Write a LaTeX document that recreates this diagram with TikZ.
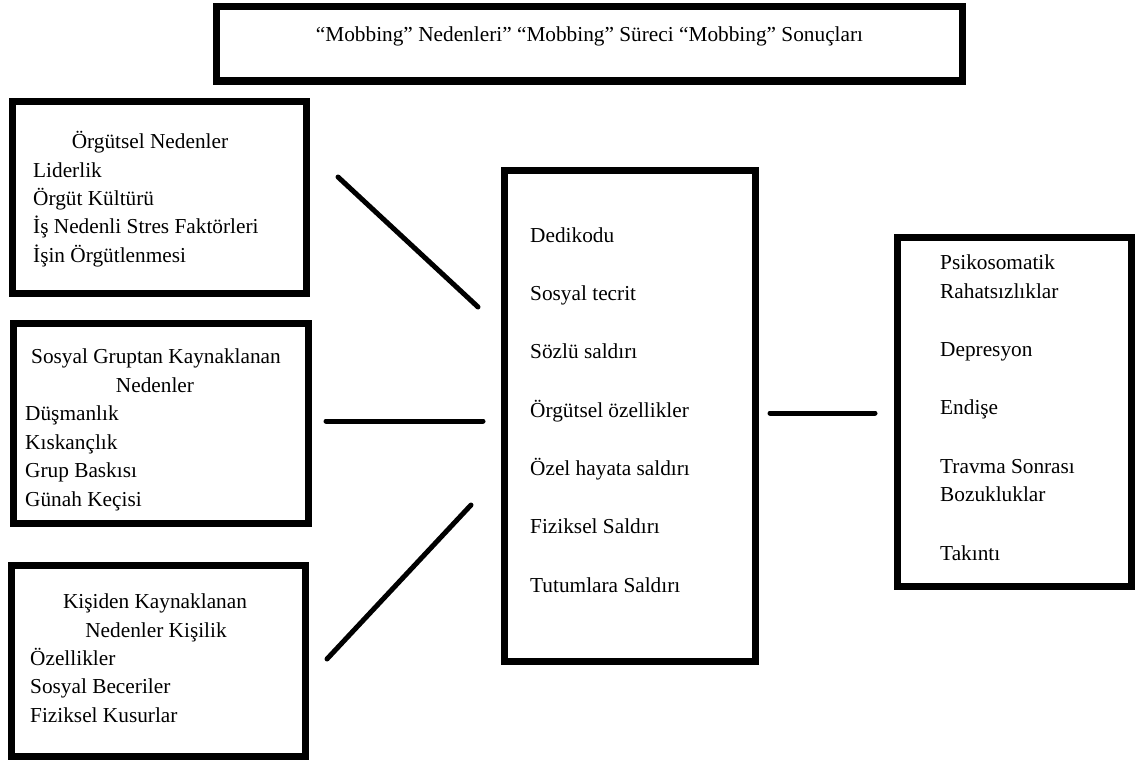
\documentclass[tikz,border=0pt]{standalone}
\usepackage{fontspec}
\setmainfont{Liberation Serif}
\usepackage{tikz}

\newcommand{\txt}{\fontsize{21.3}{25}\selectfont}

\tikzset{
  box/.style={draw,line width=7pt,inner sep=0pt},
  lbl/.style={anchor=base west,inner sep=0pt,font=\txt},
  head/.style={anchor=base,inner sep=0pt,font=\txt},
  link/.style={line width=5pt,line cap=round}
}

\begin{document}
\begin{tikzpicture}[x=1pt,y=-1pt]
        \useasboundingbox (0,0) rectangle (1135,760);

        % Title box
        \node[box,minimum width=746pt,minimum height=74pt] (titlebox) at (589,44) {};
        \node[head] (title) at (589.5,42) {“Mobbing” Nedenleri” “Mobbing” Süreci “Mobbing” Sonuçları};

        % Organisational causes
        \node[box,minimum width=294pt,minimum height=192pt] (orgbox) at (159,197) {};
        \node[head] (org) at (150,148) {Örgütsel Nedenler};
        \node[lbl] (org1) at (33,177) {Liderlik};
        \node[lbl] (org2) at (33,205) {Örgüt Kültürü};
        \node[lbl] (org3) at (33,233) {İş Nedenli Stres Faktörleri};
        \node[lbl] (org4) at (33,262) {İşin Örgütlenmesi};

        % Social group causes
        \node[box,minimum width=295pt,minimum height=200pt] (grpbox) at (160.5,423) {};
        \node[head] (grp) at (156,363) {Sosyal Gruptan Kaynaklanan};
        \node[head] (grpb) at (155,392) {Nedenler};
        \node[lbl] (grp1) at (25,420) {Düşmanlık};
        \node[lbl] (grp2) at (25,449) {Kıskançlık};
        \node[lbl] (grp3) at (25,477) {Grup Baskısı};
        \node[lbl] (grp4) at (25,506) {Günah Keçisi};

        % Personal causes
        \node[box,minimum width=294pt,minimum height=191pt] (perbox) at (158,660.5) {};
        \node[head] (per) at (155,608) {Kişiden Kaynaklanan};
        \node[head] (perb) at (156,637) {Nedenler Kişilik};
        \node[lbl] (per1) at (30,665) {Özellikler};
        \node[lbl] (per2) at (30,693) {Sosyal Beceriler};
        \node[lbl] (per3) at (30,722) {Fiziksel Kusurlar};

        % Mobbing process
        \node[box,minimum width=251pt,minimum height=491pt] (procbox) at (629.5,415.5) {};
        \node[lbl] (proc1) at (530,242) {Dedikodu};
        \node[lbl] (proc2) at (530,300) {Sosyal tecrit};
        \node[lbl] (proc3) at (530,358) {Sözlü saldırı};
        \node[lbl] (proc4) at (530,417) {Örgütsel özellikler};
        \node[lbl] (proc5) at (530,475) {Özel hayata saldırı};
        \node[lbl] (proc6) at (530,533) {Fiziksel Saldırı};
        \node[lbl] (proc7) at (530,592) {Tutumlara Saldırı};

        % Mobbing results
        \node[box,minimum width=234pt,minimum height=349pt] (resbox) at (1014,411.5) {};
        \node[lbl] (res1) at (940,269) {Psikosomatik};
        \node[lbl] (res1b) at (940,298) {Rahatsızlıklar};
        \node[lbl] (res2) at (940,356) {Depresyon};
        \node[lbl] (res3) at (940,414) {Endişe};
        \node[lbl] (res4) at (940,473) {Travma Sonrası};
        \node[lbl] (res4b) at (940,501) {Bozukluklar};
        \node[lbl] (res5) at (940,560) {Takıntı};

        % Connectors
        \coordinate (orgend) at (338,177);
        \coordinate (procin1) at (478,307);
        \coordinate (grpend) at (326,421);
        \coordinate (procin2) at (483,421);
        \coordinate (perend) at (327,659);
        \coordinate (procin3) at (471,505);
        \coordinate (procout) at (770,413);
        \coordinate (resin) at (875,413);
        \draw[link] (orgend) -- (procin1);
        \draw[link] (grpend) -- (procin2);
        \draw[link] (perend) -- (procin3);
        \draw[link] (procout) -- (resin);
    \end{tikzpicture}
\end{document}
